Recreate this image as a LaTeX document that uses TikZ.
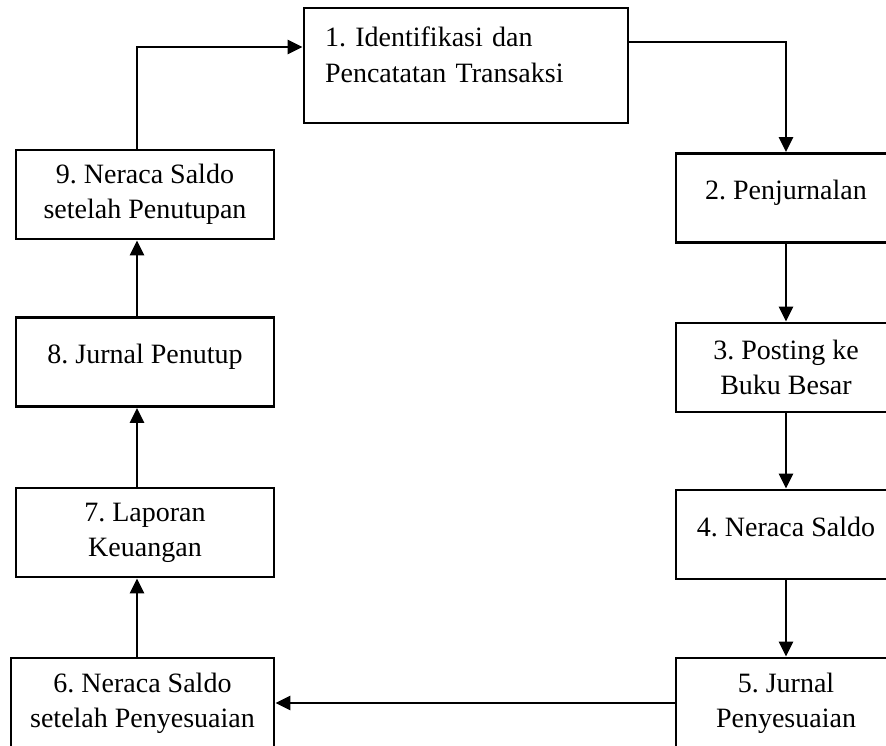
\documentclass[tikz,border=0pt]{standalone}
\usepackage{fontspec}
\setmainfont{Liberation Serif}
\usetikzlibrary{arrows.meta}
\frenchspacing

\begin{document}
\begin{tikzpicture}[
  x=1pt, y=-1pt,
  font=\fontsize{28}{35}\selectfont,
  stage/.style={draw,line width=2.8pt,align=center,inner sep=0pt,minimum height=89pt},
  wide/.style={stage,minimum width=220pt},
  narrow/.style={stage,minimum width=258pt},
  oneline/.style={text height=46pt,text depth=43pt},
  flow/.style={-{Triangle[length=15pt,width=14pt]},line width=2.8pt},
]
\clip (0,0) rectangle (886,746);
% top box
\node[stage,minimum width=324pt,minimum height=115pt,text width=282pt,align=left,
      inner xsep=21pt,text height=39pt,text depth=76pt,
      font=\fontsize{28}{36}\selectfont] (ident) at (466,65.5)
  {1. Identifikasi dan\\Pencatatan Transaksi};
% right column
\node[wide,oneline] (journal) at (786,198) {2. Penjurnalan};
\node[wide] (ledger) at (786,367.5) {3. Posting ke\\Buku Besar};
\node[wide,oneline] (trial) at (786,534.5) {4. Neraca Saldo};
\node[wide,minimum height=90pt] (adjust) at (786,703) {5. Jurnal\\Penyesuaian};
% left column
\node[stage,minimum width=263pt,minimum height=90pt] (adjtb) at (142.5,703) {6. Neraca Saldo\\setelah Penyesuaian};
\node[narrow] (report) at (145,532.5) {7. Laporan\\Keuangan};
\node[narrow,oneline,minimum height=88pt] (closing) at (145,362) {8. Jurnal Penutup};
\node[narrow] (closedtb) at (145,194.5) {9. Neraca Saldo\\setelah Penutupan};
\coordinate (lcol) at (137,47);
\coordinate (rcol) at (786,42);
% connectors
\draw[flow] (ident.east |- rcol) -| (journal.north);
\draw[flow] (journal.south) -- (ledger.north);
\draw[flow] (ledger.south) -- (trial.north);
\draw[flow] (trial.south) -- (adjust.north);
\draw[flow] (adjust.west) -- (adjtb.east);
\draw[flow] (adjtb.north -| lcol) -- (report.south -| lcol);
\draw[flow] (report.north -| lcol) -- (closing.south -| lcol);
\draw[flow] (closing.north -| lcol) -- (closedtb.south -| lcol);
\draw[flow] (closedtb.north -| lcol) -- (lcol) -- (ident.west |- lcol);
\end{tikzpicture}
\end{document}
